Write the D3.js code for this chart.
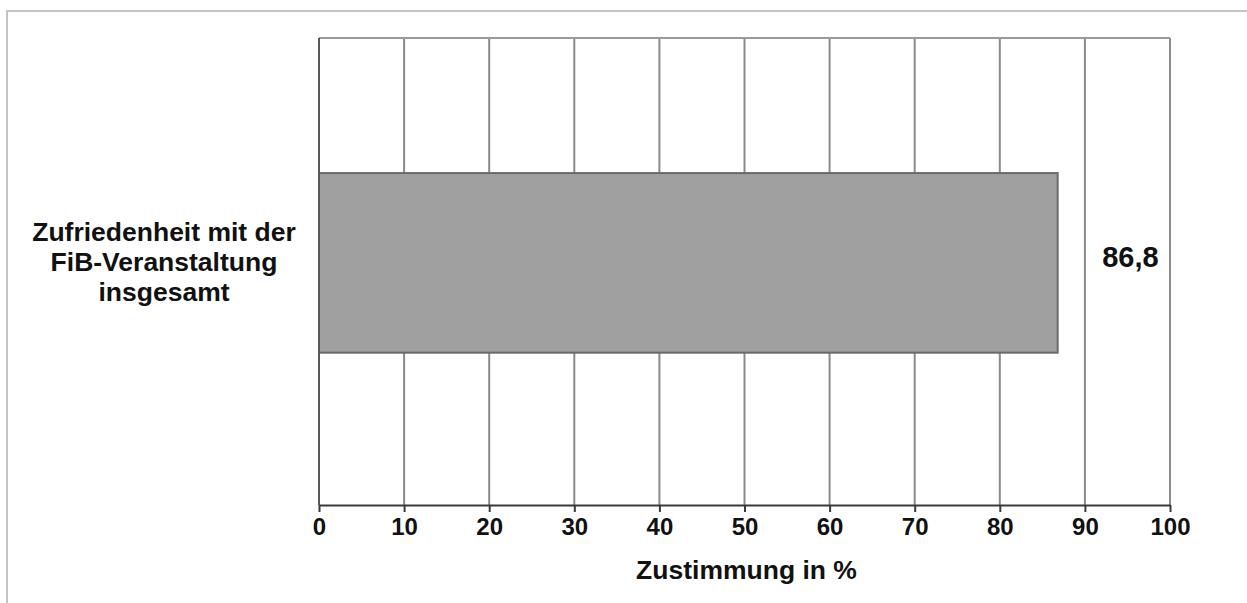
<!DOCTYPE html>
<html>
<head>
<meta charset="utf-8">
<script src="https://cdn.jsdelivr.net/npm/d3@7/dist/d3.min.js"></script>
<style>
  html, body { margin: 0; padding: 0; background: #fff; }
  svg { display: block; }
  text { font-family: "Liberation Sans", Arial, Helvetica, sans-serif; font-weight: bold; fill: #111; }
</style>
</head>
<body>
<svg id="chart" width="1247" height="603"></svg>
<script>
// Category, its value and the axis ticks
const categories = ["Zufriedenheit mit der FiB-Veranstaltung insgesamt"];
const categoryLines = [["Zufriedenheit mit der", "FiB-Veranstaltung", "insgesamt"]];
const values = [86.8];
const valueLabels = ["86,8"];
const tickValues = [0, 10, 20, 30, 40, 50, 60, 70, 80, 90, 100];
const axisTitle = "Zustimmung in %";

const svg = d3.select("#chart");

// Outer frame (top and left edges)
svg.append("path")
  .attr("d", "M7,603 V11 H1247")
  .attr("fill", "none")
  .attr("stroke", "#c4c4c4")
  .attr("stroke-width", 2);

const plot = { left: 319, right: 1170, top: 38, bottom: 505 };

const x = d3.scaleLinear().domain([0, 100]).range([plot.left, plot.right]);
const y = d3.scaleBand()
  .domain(categories)
  .range([plot.top, plot.bottom])
  .paddingInner(0)
  .paddingOuter(0.8)
  .align(0.47);

// Vertical gridlines
svg.append("g")
  .selectAll("line")
  .data(tickValues.filter(d => d > 0))
  .join("line")
  .attr("x1", d => x(d)).attr("x2", d => x(d))
  .attr("y1", plot.top).attr("y2", plot.bottom)
  .attr("stroke", "#8a8a8a")
  .attr("stroke-width", 2);

// Top border of the plot area
svg.append("line")
  .attr("x1", plot.left).attr("x2", plot.right)
  .attr("y1", plot.top).attr("y2", plot.top)
  .attr("stroke", "#9a9a9a")
  .attr("stroke-width", 2);

// Bar
svg.append("g")
  .selectAll("rect")
  .data(values)
  .join("rect")
  .attr("x", x(0))
  .attr("y", (d, i) => y(categories[i]))
  .attr("width", d => x(d) - x(0))
  .attr("height", y.bandwidth())
  .attr("fill", "#a0a0a0")
  .attr("stroke", "#6a6a6a")
  .attr("stroke-width", 2);

// Left axis line
svg.append("line")
  .attr("x1", plot.left).attr("x2", plot.left)
  .attr("y1", plot.top).attr("y2", plot.bottom)
  .attr("stroke", "#5a5a5a")
  .attr("stroke-width", 2);

// Bottom axis
const xAxis = d3.axisBottom(x)
  .tickValues(tickValues)
  .tickSize(7)
  .tickSizeOuter(0)
  .tickFormat(d3.format("d"));

const gx = svg.append("g")
  .attr("transform", `translate(0,${plot.bottom})`)
  .call(xAxis);
gx.select(".domain").attr("stroke", "#3a3a3a").attr("stroke-width", 2);
gx.selectAll(".tick line").attr("stroke", "#3a3a3a").attr("stroke-width", 2);
gx.selectAll(".tick text")
  .attr("y", 13)
  .attr("fill", "#1a1a1a")
  .style("font-size", "24px");

// Category label
const catG = svg.append("g");
categoryLines.forEach((lines, i) => {
  const cy = y(categories[i]) + y.bandwidth() / 2;
  const lh = 30;
  lines.forEach((t, j) => {
    catG.append("text")
      .attr("x", 164)
      .attr("y", cy - 1 + (j - (lines.length - 1) / 2) * lh)
      .attr("dy", "0.35em")
      .attr("text-anchor", "middle")
      .style("font-size", "26.5px")
      .text(t);
  });
});

// Value label
svg.append("g")
  .selectAll("text")
  .data(values)
  .join("text")
  .attr("x", (x(90) + x(100)) / 2 + 3)
  .attr("y", (d, i) => y(categories[i]) + y.bandwidth() / 2 - 6)
  .attr("dy", "0.35em")
  .attr("text-anchor", "middle")
  .style("font-size", "29px")
  .attr("fill", "#1a1a1a")
  .text((d, i) => valueLabels[i]);

// Axis title
svg.append("text")
  .attr("x", (plot.left + plot.right) / 2 + 2)
  .attr("y", 579)
  .attr("text-anchor", "middle")
  .style("font-size", "26.5px")
  .text(axisTitle);
</script>
</body>
</html>
